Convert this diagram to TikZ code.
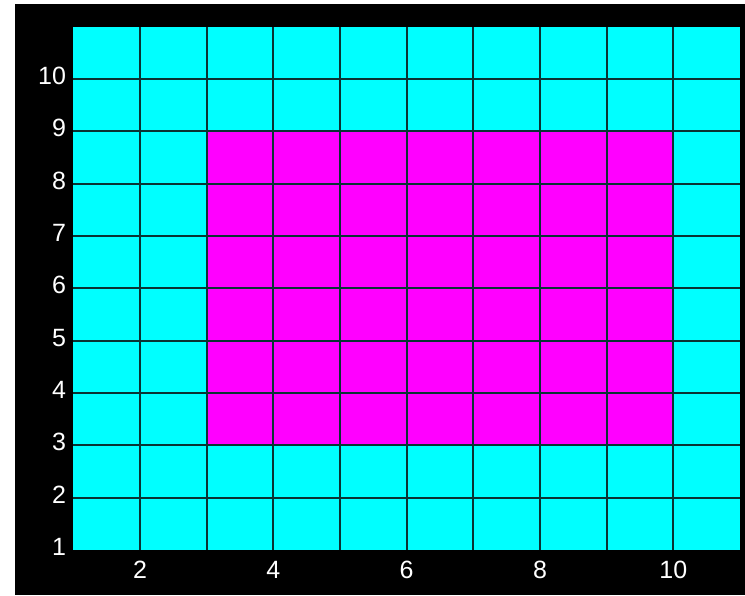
\documentclass[tikz,border=0pt]{standalone}
\usepackage{fontspec}
\setmainfont{Liberation Sans}
\usetikzlibrary{positioning}
\definecolor{cellcyan}{HTML}{00FFFF}
\definecolor{cellmagenta}{HTML}{FF00FF}
\definecolor{gridline}{HTML}{0A3333}

\begin{document}
\begin{tikzpicture}[
  x=0.5pt,y=0.5pt,
  font=\fontsize{12.5}{14}\selectfont,
  gridln/.style={draw=gridline,line width=1pt},
  tick/.style={text=white,inner sep=0pt}
]
\useasboundingbox (0,0) rectangle (745,595);
\fill[white] (0,0) rectangle (745,595);
\fill[black] (15,0) rectangle (745,591);
\begin{scope}[shift={(3.333pt,-3.667pt)},x=33.333pt,y=26.167pt]
% cells
\fill[cellcyan] (1,1) rectangle (11,11);
\fill[cellmagenta] (3,3) rectangle (10,9);
% grid
\foreach \i in {2,...,10} {
  \draw[gridln] (\i,1) -- (\i,11);
  \draw[gridln] (1,\i) -- (11,\i);
}
% axis labels
\foreach \y in {1,...,10}
  \node[tick,anchor=east] (ylab\y) at ([xshift=-3.5pt,yshift=1.5pt]1,\y) {\y};
\foreach \x in {2,4,...,10}
  \node[tick] (xlab\x) at (\x,0.62) {\x};
\end{scope}
\end{tikzpicture}
\end{document}
